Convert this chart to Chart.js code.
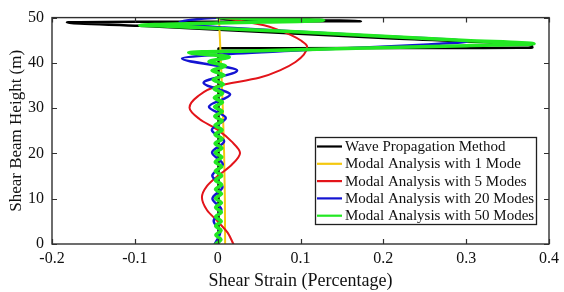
<!DOCTYPE html>
<html>
<head>
<meta charset="utf-8">
<script src="https://cdn.jsdelivr.net/npm/chart.js@4.4.1/dist/chart.umd.min.js"></script>
<style>
  html, body { margin: 0; padding: 0; background: #fff; }
</style>
</head>
<body>
<canvas id="c" width="564" height="292"></canvas>
<script>
// Shear strain profiles along the beam height.
// Each series: heights (m) and strains (%), in order of increasing height.

const X_TICKS = [-0.2, -0.1, 0, 0.1, 0.2, 0.3, 0.4];
const Y_TICKS = [0, 10, 20, 30, 40, 50];

const SERIES_LABELS = [
  'Wave Propagation Method',
  'Modal Analysis with 1 Mode',
  'Modal Analysis with 5 Modes',
  'Modal Analysis with 20 Modes',
  'Modal Analysis with 50 Modes',
];
const SERIES_COLORS = ['#000000', '#f4c810', '#e3141a', '#1414d2', '#22e822'];

const waveH = [0, 43.2, 43.35, 43.9, 45.5, 48.2, 48.9, 49.1, 49.2, 49.7, 50];
const waveS = [0.001, 0.001, 0.38, 0.378, 0.2, -0.094, -0.182, -0.1, 0.173, 0.01, 0.0];

const mode1H = [0, 10, 20, 30, 40, 45, 50];
const mode1S = [0.009, 0.0087, 0.0078, 0.0062, 0.004, 0.0028, 0.0015];

const mode5H = [0, 2.5, 5, 7.5, 10.3, 12.8, 15, 17.5, 20.1, 22.6, 25.2, 27.6, 30.1, 32.6,
                34.9, 36.7, 38.5, 40.2, 41.8, 43.6, 45.0, 46.2, 47.3, 48.3, 49.2, 50];
const mode5S = [0.019, 0.012, 0.0, -0.013, -0.019, -0.013, 0.0, 0.017, 0.027, 0.017, 0.0, -0.022, -0.034, -0.024,
                0.0, 0.05, 0.077, 0.094, 0.104, 0.108, 0.1, 0.088, 0.073, 0.056, 0.03, 0.005];

const mode20H = [0, 2.6, 5.1, 7.6, 10.0, 12.6, 15.1, 17.6, 20.2, 22.7, 25.2, 27.8, 30.3, 33.0, 35.6, 38.3, 41.0,
                 41.9, 43.0, 44.0, 44.7, 46.2, 47.8, 48.4, 49.0, 49.7, 50];
const mode20S = [-0.0035, 0.003, -0.0048, 0.0045, -0.0063, 0.0058, -0.0065, 0.0062, -0.0067, 0.0078, -0.007, 0.0098,
                 -0.0105, 0.015, -0.017, 0.0235, -0.043,
                 0.008, 0.128, 0.248, 0.302, 0.167, 0.008, -0.036, -0.046, -0.022, 0.002];

const mode50H = [0.0, 1.0, 2.0, 3.0, 4.0, 5.0, 6.0, 7.0, 8.1, 9.1, 10.1, 11.1, 12.1, 13.1, 14.1, 15.1,
                 16.1, 17.1, 18.1, 19.2, 20.2, 21.2, 22.2, 23.2, 24.2, 25.2, 26.2, 27.2, 28.2, 29.3,
                 30.3, 31.3, 32.3, 33.3, 34.3, 35.3, 36.3, 37.3, 38.3, 39.3, 40.3, 41.3, 42.3,
                 42.7, 43.8, 44.2, 44.95, 46.8, 48.1, 48.3, 48.8, 49.4, 49.85, 50];
const mode50S = [-0.0025, 0.004, -0.0023, 0.0042, -0.0024, 0.0043, -0.0025, 0.0044, -0.0025, 0.0045, -0.0026,
                 0.0046, -0.0026, 0.0047, -0.0027, 0.0048, -0.0028, 0.0049, -0.0029, 0.005, -0.003, 0.0051,
                 -0.0031, 0.0052, -0.0032, 0.0053, -0.0033, 0.0054, -0.0035, 0.0056, -0.0037, 0.0058,
                 -0.004, 0.006, -0.0045, 0.0068, -0.0055, 0.0078, -0.0068, 0.0095, -0.0105, 0.014, -0.035,
                 0.05, 0.3, 0.382, 0.3, 0.1, -0.06, -0.094, 0.0, 0.128, 0.03, 0.0];

const SERIES = [
  [waveH, waveS], [mode1H, mode1S], [mode5H, mode5S], [mode20H, mode20S], [mode50H, mode50S],
];
const WIDTHS = [2.5, 2, 2, 2.5, 3.5];

const FONT = "'Liberation Serif', 'Times New Roman', serif";

const toPoints = (h, s) => h.map((y, i) => ({ x: s[i], y }));

// MATLAB-style box with inward ticks on all four sides
const frameTicks = {
  id: 'frameTicks',
  afterDatasetsDraw(chart) {
    const { ctx, chartArea: a, scales: { x, y } } = chart;
    ctx.save();
    ctx.strokeStyle = '#303030';
    ctx.lineWidth = 1.2;
    ctx.beginPath();
    X_TICKS.forEach(v => {
      const px = Math.round(x.getPixelForValue(v)) + 0.5;
      ctx.moveTo(px, a.bottom); ctx.lineTo(px, a.bottom - 5);
      ctx.moveTo(px, a.top);    ctx.lineTo(px, a.top + 5);
    });
    Y_TICKS.forEach(v => {
      const py = Math.round(y.getPixelForValue(v)) + 0.5;
      ctx.moveTo(a.left, py);  ctx.lineTo(a.left + 5, py);
      ctx.moveTo(a.right, py); ctx.lineTo(a.right - 5, py);
    });
    ctx.stroke();
    ctx.lineWidth = 1.4;
    ctx.strokeRect(a.left, a.top, a.right - a.left, a.bottom - a.top);
    ctx.restore();
  },
};

// legend box inside the plot, lower right
const boxLegend = {
  id: 'boxLegend',
  afterDraw(chart) {
    const { ctx } = chart;
    const left = 315, top = 137, w = 221, h = 87, row = 17.3;
    ctx.save();
    ctx.fillStyle = '#fff';
    ctx.fillRect(left, top, w, h);
    ctx.strokeStyle = '#202020';
    ctx.lineWidth = 1.3;
    ctx.strokeRect(left + 0.5, top + 0.5, w, h);
    ctx.font = '15px ' + FONT;
    ctx.textBaseline = 'middle';
    ctx.textAlign = 'left';
    SERIES_LABELS.forEach((label, i) => {
      const cy = top + 9.5 + i * row;
      ctx.strokeStyle = SERIES_COLORS[i];
      ctx.lineWidth = 2.2;
      ctx.beginPath();
      ctx.moveTo(left + 2, cy); ctx.lineTo(left + 27, cy);
      ctx.stroke();
      ctx.fillStyle = '#111';
      ctx.fillText(label, left + 30, cy + 0.5);
    });
    ctx.restore();
  },
};

new Chart(document.getElementById('c'), {
  type: 'line',
  data: {
    datasets: SERIES.map(([h, s], i) => ({
      label: SERIES_LABELS[i],
      data: toPoints(h, s),
      borderColor: SERIES_COLORS[i],
      borderWidth: WIDTHS[i],
      pointRadius: 0,
      fill: false,
      cubicInterpolationMode: 'monotone',
      borderJoinStyle: 'round',
      borderCapStyle: 'round',
      order: SERIES.length - i,   // green on top, black underneath
    })),
  },
  options: {
    indexAxis: 'y',
    responsive: false,
    animation: false,
    layout: { padding: { top: 13, right: 12, left: 0, bottom: 0 } },
    plugins: { legend: { display: false }, tooltip: { enabled: false } },
    scales: {
      x: {
        type: 'linear', min: -0.2, max: 0.4,
        grid: { display: false, drawTicks: false },
        border: { display: false },
        afterBuildTicks: s => { s.ticks = X_TICKS.map(v => ({ value: v })); },
        afterFit: s => { s.height = 48; },
        ticks: {
          autoSkip: false, maxRotation: 0, padding: 5, color: '#111',
          font: { family: FONT, size: 16 },
          callback: v => String(+v.toFixed(1)),
        },
        title: {
          display: true, text: 'Shear Strain (Percentage)', color: '#111',
          font: { family: FONT, size: 18 }, padding: { top: 0, bottom: 0 },
        },
      },
      y: {
        type: 'linear', min: 0, max: 50, reverse: false,
        grid: { display: false, drawTicks: false },
        border: { display: false },
        afterBuildTicks: s => { s.ticks = Y_TICKS.map(v => ({ value: v })); },
        afterFit: s => { s.width = 52; },
        ticks: {
          autoSkip: false, padding: 8, color: '#111',
          font: { family: FONT, size: 16 },
        },
        title: {
          display: true, text: 'Shear Beam Height (m)', color: '#111',
          font: { family: FONT, size: 17 }, padding: { top: 6, bottom: 0 },
        },
      },
    },
  },
  plugins: [frameTicks, boxLegend],
});
</script>
</body>
</html>
